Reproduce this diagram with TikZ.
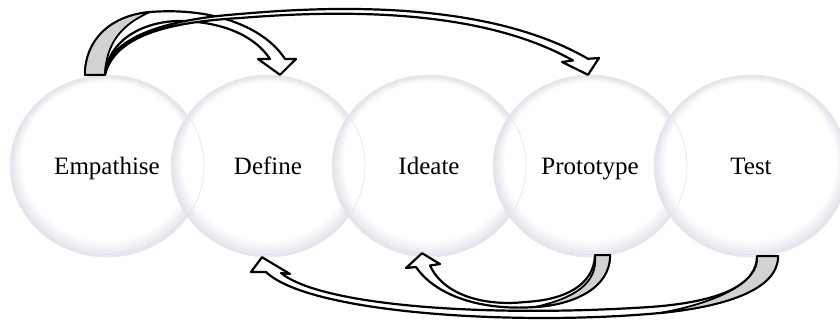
\documentclass[tikz,border=0pt]{standalone}
\usepackage{fontspec}
\setmainfont{Liberation Serif}
\usetikzlibrary{shapes.geometric,calc}
\definecolor{rim}{RGB}{206,206,220}

\begin{document}
\begin{tikzpicture}[x=1pt, y=-1pt,
  stage/.style={ellipse, minimum width=194pt, minimum height=182pt, inner sep=0pt,
    fill=white, text height=22pt, text depth=6pt,
    font=\fontsize{25}{30}\selectfont},
  ribbon/.style={draw=black, line width=2.2pt, fill=white, line join=round},
  twist/.style={draw=black, line width=1.8pt, fill=gray!35, line join=round}]
  \useasboundingbox (0,0) rectangle (840,321);
  \foreach \n/\x/\t in {emp/107/Empathise, def/268/Define, idea/429/Ideate, proto/590/Prototype, test/751/Test} {
    \node [stage] (\n) at (\x,166) {\t};
    \foreach \i [evaluate=\i as \r using {int(60-5.5*\i)}] in {0,...,10}
      \draw [rim!\r, line width=1.3pt] ([yshift=.4*\i pt]\n.center) ellipse [x radius=96-\i, y radius=90-\i];
  }
  \foreach \n in {emp,def,idea,proto,test}
    \draw [rim!55, line width=.6pt] (\n.center) ellipse [x radius=97, y radius=91];

  \coordinate (db1) at ($(test.south)+(6,-1)$);
  \coordinate (db2) at ($(test.south)+(27,-1)$);
  \coordinate (dt) at ($(def.south)+(-6,0)$);
  \draw [ribbon] (db2) .. controls (778,288) and (730,306) .. (660,313)
    .. controls (520,326) and (310,314) .. (266,272) -- (251,272) -- (dt) -- (290,274) -- (281,273)
    .. controls (320,305) and (480,318) .. (650,307)
    .. controls (720,302) and (757,285) .. (db1) -- cycle;
  \draw [twist] (db1) .. controls (760,283) and (715,303) .. (660,313)
    .. controls (730,306) and (778,288) .. (db2) -- cycle;

  \coordinate (cb1) at ($(proto.south)+(5,-2)$);
  \coordinate (cb2) at ($(proto.south)+(20,-2)$);
  \coordinate (ct) at ($(idea.south)+(-7,-4)$);
  \draw [ribbon] (cb2) .. controls (610,290) and (570,305) .. (535,307)
    .. controls (480,311) and (435,295) .. (416,267) -- (406,268) -- (ct) -- (440,264) -- (430,265.5)
    .. controls (445,298) and (490,306) .. (525,302)
    .. controls (565,300) and (594,285) .. (cb1) -- cycle;
  \draw [twist] (cb1) .. controls (598,283) and (575,298) .. (535,307)
    .. controls (570,305) and (610,290) .. (cb2) -- cycle;

  \coordinate (ab1) at ($(emp.north)+(-22,0)$);
  \coordinate (ab2) at ($(emp.north)+(-2,0)$);
  \coordinate (at) at ($(def.north)+(12,0)$);
  \draw [ribbon] (ab1) .. controls (85,42) and (108,16) .. (150,12)
    .. controls (215,7) and (265,28) .. (285,59) -- (296,59) -- (at) -- (258,59) -- (270,59)
    .. controls (252,32) and (215,21) .. (178,21)
    .. controls (140,22) and (108,42) .. (ab2) -- cycle;
  \draw [twist] (ab2) .. controls (106,45) and (120,25) .. (150,12)
    .. controls (108,16) and (85,42) .. (ab1) -- cycle;

  \coordinate (bt) at ($(proto.north)+(-2,0)$);
  \draw [ribbon] (ab2) .. controls (115,35) and (170,22) .. (240,18)
    .. controls (340,10) and (480,8) .. (573,60.5) -- (562,62) -- (bt) -- (599,58) -- (588,58.8)
    .. controls (490,2) and (340,5) .. (240,14)
    .. controls (170,19) and (118,35) .. (106,66) -- cycle;
\end{tikzpicture}
\end{document}
